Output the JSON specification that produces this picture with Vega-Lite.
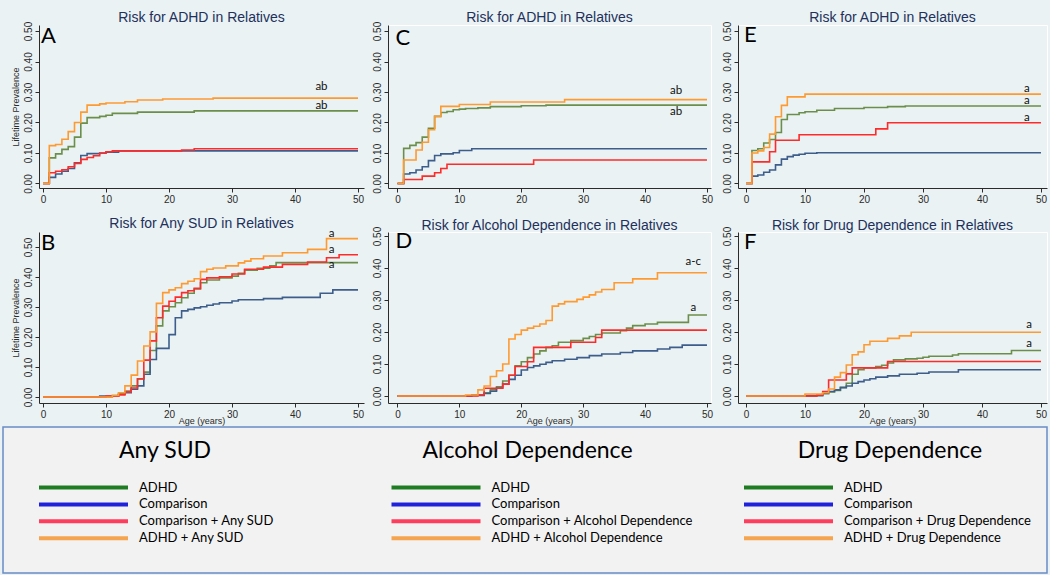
{
  "$schema": "https://vega.github.io/schema/vega-lite/v6.json",
  "background": "#EAF2F3",
  "padding": {"left": 2, "top": 10, "right": 2, "bottom": 2},
  "datasets": {
    "curves": [
      {"p":"A","s":"ADHD","age":0,"prev":0},{"p":"A","s":"ADHD","age":1,"prev":0.084},{"p":"A","s":"ADHD","age":2,"prev":0.097},{"p":"A","s":"ADHD","age":3,"prev":0.112},{"p":"A","s":"ADHD","age":4,"prev":0.121},{"p":"A","s":"ADHD","age":5,"prev":0.152},{"p":"A","s":"ADHD","age":6,"prev":0.198},{"p":"A","s":"ADHD","age":7,"prev":0.216},{"p":"A","s":"ADHD","age":9,"prev":0.22},{"p":"A","s":"ADHD","age":10,"prev":0.224},{"p":"A","s":"ADHD","age":11,"prev":0.23},{"p":"A","s":"ADHD","age":15,"prev":0.234},{"p":"A","s":"ADHD","age":24,"prev":0.238},{"p":"A","s":"ADHD","age":50,"prev":0.238},
      {"p":"A","s":"Comparison","age":0,"prev":0},{"p":"A","s":"Comparison","age":1,"prev":0.02},{"p":"A","s":"Comparison","age":2,"prev":0.031},{"p":"A","s":"Comparison","age":3,"prev":0.04},{"p":"A","s":"Comparison","age":4,"prev":0.049},{"p":"A","s":"Comparison","age":5,"prev":0.068},{"p":"A","s":"Comparison","age":6,"prev":0.092},{"p":"A","s":"Comparison","age":7,"prev":0.098},{"p":"A","s":"Comparison","age":9,"prev":0.1},{"p":"A","s":"Comparison","age":10,"prev":0.103},{"p":"A","s":"Comparison","age":12,"prev":0.107},{"p":"A","s":"Comparison","age":50,"prev":0.107},
      {"p":"A","s":"Comparison + SUD","age":0,"prev":0},{"p":"A","s":"Comparison + SUD","age":1,"prev":0.035},{"p":"A","s":"Comparison + SUD","age":2,"prev":0.04},{"p":"A","s":"Comparison + SUD","age":3,"prev":0.045},{"p":"A","s":"Comparison + SUD","age":4,"prev":0.055},{"p":"A","s":"Comparison + SUD","age":5,"prev":0.066},{"p":"A","s":"Comparison + SUD","age":6,"prev":0.079},{"p":"A","s":"Comparison + SUD","age":7,"prev":0.085},{"p":"A","s":"Comparison + SUD","age":8,"prev":0.091},{"p":"A","s":"Comparison + SUD","age":9,"prev":0.099},{"p":"A","s":"Comparison + SUD","age":10,"prev":0.104},{"p":"A","s":"Comparison + SUD","age":11,"prev":0.107},{"p":"A","s":"Comparison + SUD","age":22,"prev":0.11},{"p":"A","s":"Comparison + SUD","age":24,"prev":0.114},{"p":"A","s":"Comparison + SUD","age":50,"prev":0.114},
      {"p":"A","s":"ADHD + SUD","age":0,"prev":0},{"p":"A","s":"ADHD + SUD","age":1,"prev":0.124},{"p":"A","s":"ADHD + SUD","age":2,"prev":0.128},{"p":"A","s":"ADHD + SUD","age":3,"prev":0.145},{"p":"A","s":"ADHD + SUD","age":4,"prev":0.17},{"p":"A","s":"ADHD + SUD","age":5,"prev":0.2},{"p":"A","s":"ADHD + SUD","age":6,"prev":0.234},{"p":"A","s":"ADHD + SUD","age":7,"prev":0.257},{"p":"A","s":"ADHD + SUD","age":9,"prev":0.261},{"p":"A","s":"ADHD + SUD","age":10,"prev":0.264},{"p":"A","s":"ADHD + SUD","age":13,"prev":0.268},{"p":"A","s":"ADHD + SUD","age":15,"prev":0.274},{"p":"A","s":"ADHD + SUD","age":19,"prev":0.277},{"p":"A","s":"ADHD + SUD","age":27,"prev":0.28},{"p":"A","s":"ADHD + SUD","age":50,"prev":0.28},

      {"p":"C","s":"ADHD","age":0,"prev":0},{"p":"C","s":"ADHD","age":1,"prev":0.115},{"p":"C","s":"ADHD","age":2,"prev":0.125},{"p":"C","s":"ADHD","age":3,"prev":0.134},{"p":"C","s":"ADHD","age":4,"prev":0.152},{"p":"C","s":"ADHD","age":5,"prev":0.181},{"p":"C","s":"ADHD","age":6,"prev":0.22},{"p":"C","s":"ADHD","age":7,"prev":0.233},{"p":"C","s":"ADHD","age":8,"prev":0.236},{"p":"C","s":"ADHD","age":9,"prev":0.242},{"p":"C","s":"ADHD","age":10,"prev":0.244},{"p":"C","s":"ADHD","age":11,"prev":0.246},{"p":"C","s":"ADHD","age":13,"prev":0.248},{"p":"C","s":"ADHD","age":15,"prev":0.252},{"p":"C","s":"ADHD","age":20,"prev":0.255},{"p":"C","s":"ADHD","age":24,"prev":0.257},{"p":"C","s":"ADHD","age":50,"prev":0.257},
      {"p":"C","s":"Comparison","age":0,"prev":0},{"p":"C","s":"Comparison","age":1,"prev":0.031},{"p":"C","s":"Comparison","age":2,"prev":0.035},{"p":"C","s":"Comparison","age":3,"prev":0.044},{"p":"C","s":"Comparison","age":4,"prev":0.055},{"p":"C","s":"Comparison","age":5,"prev":0.075},{"p":"C","s":"Comparison","age":6,"prev":0.092},{"p":"C","s":"Comparison","age":7,"prev":0.097},{"p":"C","s":"Comparison","age":9,"prev":0.101},{"p":"C","s":"Comparison","age":10,"prev":0.108},{"p":"C","s":"Comparison","age":12,"prev":0.114},{"p":"C","s":"Comparison","age":50,"prev":0.114},
      {"p":"C","s":"Comparison + SUD","age":0,"prev":0},{"p":"C","s":"Comparison + SUD","age":1,"prev":0.013},{"p":"C","s":"Comparison + SUD","age":4,"prev":0.024},{"p":"C","s":"Comparison + SUD","age":6,"prev":0.035},{"p":"C","s":"Comparison + SUD","age":7,"prev":0.049},{"p":"C","s":"Comparison + SUD","age":8,"prev":0.063},{"p":"C","s":"Comparison + SUD","age":22,"prev":0.077},{"p":"C","s":"Comparison + SUD","age":50,"prev":0.077},
      {"p":"C","s":"ADHD + SUD","age":0,"prev":0},{"p":"C","s":"ADHD + SUD","age":1,"prev":0.077},{"p":"C","s":"ADHD + SUD","age":3,"prev":0.11},{"p":"C","s":"ADHD + SUD","age":4,"prev":0.135},{"p":"C","s":"ADHD + SUD","age":5,"prev":0.176},{"p":"C","s":"ADHD + SUD","age":6,"prev":0.22},{"p":"C","s":"ADHD + SUD","age":7,"prev":0.253},{"p":"C","s":"ADHD + SUD","age":10,"prev":0.259},{"p":"C","s":"ADHD + SUD","age":15,"prev":0.267},{"p":"C","s":"ADHD + SUD","age":27,"prev":0.275},{"p":"C","s":"ADHD + SUD","age":50,"prev":0.275},

      {"p":"E","s":"ADHD","age":0,"prev":0},{"p":"E","s":"ADHD","age":1,"prev":0.108},{"p":"E","s":"ADHD","age":2,"prev":0.114},{"p":"E","s":"ADHD","age":3,"prev":0.133},{"p":"E","s":"ADHD","age":4,"prev":0.144},{"p":"E","s":"ADHD","age":5,"prev":0.167},{"p":"E","s":"ADHD","age":6,"prev":0.21},{"p":"E","s":"ADHD","age":7,"prev":0.226},{"p":"E","s":"ADHD","age":9,"prev":0.232},{"p":"E","s":"ADHD","age":10,"prev":0.235},{"p":"E","s":"ADHD","age":12,"prev":0.24},{"p":"E","s":"ADHD","age":15,"prev":0.246},{"p":"E","s":"ADHD","age":20,"prev":0.249},{"p":"E","s":"ADHD","age":24,"prev":0.252},{"p":"E","s":"ADHD","age":27,"prev":0.254},{"p":"E","s":"ADHD","age":50,"prev":0.254},
      {"p":"E","s":"Comparison","age":0,"prev":0},{"p":"E","s":"Comparison","age":1,"prev":0.024},{"p":"E","s":"Comparison","age":2,"prev":0.028},{"p":"E","s":"Comparison","age":3,"prev":0.037},{"p":"E","s":"Comparison","age":4,"prev":0.044},{"p":"E","s":"Comparison","age":5,"prev":0.061},{"p":"E","s":"Comparison","age":6,"prev":0.08},{"p":"E","s":"Comparison","age":7,"prev":0.088},{"p":"E","s":"Comparison","age":8,"prev":0.093},{"p":"E","s":"Comparison","age":9,"prev":0.096},{"p":"E","s":"Comparison","age":10,"prev":0.099},{"p":"E","s":"Comparison","age":12,"prev":0.101},{"p":"E","s":"Comparison","age":50,"prev":0.101},
      {"p":"E","s":"Comparison + SUD","age":0,"prev":0},{"p":"E","s":"Comparison + SUD","age":1,"prev":0.071},{"p":"E","s":"Comparison + SUD","age":4,"prev":0.104},{"p":"E","s":"Comparison + SUD","age":5,"prev":0.142},{"p":"E","s":"Comparison + SUD","age":9,"prev":0.16},{"p":"E","s":"Comparison + SUD","age":22,"prev":0.179},{"p":"E","s":"Comparison + SUD","age":24,"prev":0.199},{"p":"E","s":"Comparison + SUD","age":50,"prev":0.199},
      {"p":"E","s":"ADHD + SUD","age":0,"prev":0},{"p":"E","s":"ADHD + SUD","age":1,"prev":0.1},{"p":"E","s":"ADHD + SUD","age":2,"prev":0.107},{"p":"E","s":"ADHD + SUD","age":3,"prev":0.118},{"p":"E","s":"ADHD + SUD","age":4,"prev":0.162},{"p":"E","s":"ADHD + SUD","age":5,"prev":0.219},{"p":"E","s":"ADHD + SUD","age":6,"prev":0.256},{"p":"E","s":"ADHD + SUD","age":7,"prev":0.284},{"p":"E","s":"ADHD + SUD","age":10,"prev":0.293},{"p":"E","s":"ADHD + SUD","age":50,"prev":0.293},

      {"p":"B","s":"ADHD","age":0,"prev":0},{"p":"B","s":"ADHD","age":11,"prev":0.005},{"p":"B","s":"ADHD","age":12,"prev":0.012},{"p":"B","s":"ADHD","age":13,"prev":0.02},{"p":"B","s":"ADHD","age":14,"prev":0.037},{"p":"B","s":"ADHD","age":15,"prev":0.061},{"p":"B","s":"ADHD","age":16,"prev":0.083},{"p":"B","s":"ADHD","age":17,"prev":0.155},{"p":"B","s":"ADHD","age":18,"prev":0.237},{"p":"B","s":"ADHD","age":19,"prev":0.287},{"p":"B","s":"ADHD","age":20,"prev":0.301},{"p":"B","s":"ADHD","age":21,"prev":0.314},{"p":"B","s":"ADHD","age":22,"prev":0.331},{"p":"B","s":"ADHD","age":23,"prev":0.346},{"p":"B","s":"ADHD","age":24,"prev":0.36},{"p":"B","s":"ADHD","age":25,"prev":0.381},{"p":"B","s":"ADHD","age":26,"prev":0.39},{"p":"B","s":"ADHD","age":28,"prev":0.397},{"p":"B","s":"ADHD","age":30,"prev":0.403},{"p":"B","s":"ADHD","age":31,"prev":0.412},{"p":"B","s":"ADHD","age":32,"prev":0.423},{"p":"B","s":"ADHD","age":34,"prev":0.429},{"p":"B","s":"ADHD","age":36,"prev":0.437},{"p":"B","s":"ADHD","age":37,"prev":0.448},{"p":"B","s":"ADHD","age":50,"prev":0.448},
      {"p":"B","s":"Comparison","age":0,"prev":0},{"p":"B","s":"Comparison","age":9,"prev":0.003},{"p":"B","s":"Comparison","age":12,"prev":0.009},{"p":"B","s":"Comparison","age":13,"prev":0.014},{"p":"B","s":"Comparison","age":14,"prev":0.026},{"p":"B","s":"Comparison","age":15,"prev":0.037},{"p":"B","s":"Comparison","age":16,"prev":0.076},{"p":"B","s":"Comparison","age":17,"prev":0.125},{"p":"B","s":"Comparison","age":18,"prev":0.162},{"p":"B","s":"Comparison","age":20,"prev":0.208},{"p":"B","s":"Comparison","age":21,"prev":0.264},{"p":"B","s":"Comparison","age":22,"prev":0.287},{"p":"B","s":"Comparison","age":23,"prev":0.292},{"p":"B","s":"Comparison","age":24,"prev":0.297},{"p":"B","s":"Comparison","age":25,"prev":0.301},{"p":"B","s":"Comparison","age":26,"prev":0.306},{"p":"B","s":"Comparison","age":27,"prev":0.31},{"p":"B","s":"Comparison","age":28,"prev":0.314},{"p":"B","s":"Comparison","age":30,"prev":0.32},{"p":"B","s":"Comparison","age":31,"prev":0.324},{"p":"B","s":"Comparison","age":35,"prev":0.328},{"p":"B","s":"Comparison","age":38,"prev":0.332},{"p":"B","s":"Comparison","age":44,"prev":0.346},{"p":"B","s":"Comparison","age":46,"prev":0.357},{"p":"B","s":"Comparison","age":50,"prev":0.357},
      {"p":"B","s":"Comparison + SUD","age":0,"prev":0},{"p":"B","s":"Comparison + SUD","age":10,"prev":0.003},{"p":"B","s":"Comparison + SUD","age":12,"prev":0.007},{"p":"B","s":"Comparison + SUD","age":13,"prev":0.017},{"p":"B","s":"Comparison + SUD","age":14,"prev":0.03},{"p":"B","s":"Comparison + SUD","age":15,"prev":0.06},{"p":"B","s":"Comparison + SUD","age":16,"prev":0.123},{"p":"B","s":"Comparison + SUD","age":17,"prev":0.187},{"p":"B","s":"Comparison + SUD","age":18,"prev":0.264},{"p":"B","s":"Comparison + SUD","age":19,"prev":0.303},{"p":"B","s":"Comparison + SUD","age":20,"prev":0.319},{"p":"B","s":"Comparison + SUD","age":21,"prev":0.333},{"p":"B","s":"Comparison + SUD","age":22,"prev":0.348},{"p":"B","s":"Comparison + SUD","age":23,"prev":0.354},{"p":"B","s":"Comparison + SUD","age":24,"prev":0.362},{"p":"B","s":"Comparison + SUD","age":25,"prev":0.392},{"p":"B","s":"Comparison + SUD","age":26,"prev":0.397},{"p":"B","s":"Comparison + SUD","age":28,"prev":0.401},{"p":"B","s":"Comparison + SUD","age":30,"prev":0.41},{"p":"B","s":"Comparison + SUD","age":32,"prev":0.426},{"p":"B","s":"Comparison + SUD","age":35,"prev":0.433},{"p":"B","s":"Comparison + SUD","age":38,"prev":0.442},{"p":"B","s":"Comparison + SUD","age":42,"prev":0.45},{"p":"B","s":"Comparison + SUD","age":45,"prev":0.464},{"p":"B","s":"Comparison + SUD","age":47,"prev":0.474},{"p":"B","s":"Comparison + SUD","age":50,"prev":0.474},
      {"p":"B","s":"ADHD + SUD","age":0,"prev":0},{"p":"B","s":"ADHD + SUD","age":11,"prev":0.005},{"p":"B","s":"ADHD + SUD","age":12,"prev":0.014},{"p":"B","s":"ADHD + SUD","age":13,"prev":0.037},{"p":"B","s":"ADHD + SUD","age":14,"prev":0.073},{"p":"B","s":"ADHD + SUD","age":15,"prev":0.12},{"p":"B","s":"ADHD + SUD","age":16,"prev":0.17},{"p":"B","s":"ADHD + SUD","age":17,"prev":0.217},{"p":"B","s":"ADHD + SUD","age":18,"prev":0.312},{"p":"B","s":"ADHD + SUD","age":19,"prev":0.348},{"p":"B","s":"ADHD + SUD","age":20,"prev":0.357},{"p":"B","s":"ADHD + SUD","age":21,"prev":0.364},{"p":"B","s":"ADHD + SUD","age":22,"prev":0.378},{"p":"B","s":"ADHD + SUD","age":23,"prev":0.386},{"p":"B","s":"ADHD + SUD","age":24,"prev":0.394},{"p":"B","s":"ADHD + SUD","age":25,"prev":0.418},{"p":"B","s":"ADHD + SUD","age":26,"prev":0.426},{"p":"B","s":"ADHD + SUD","age":27,"prev":0.43},{"p":"B","s":"ADHD + SUD","age":29,"prev":0.437},{"p":"B","s":"ADHD + SUD","age":31,"prev":0.447},{"p":"B","s":"ADHD + SUD","age":32,"prev":0.453},{"p":"B","s":"ADHD + SUD","age":33,"prev":0.461},{"p":"B","s":"ADHD + SUD","age":35,"prev":0.47},{"p":"B","s":"ADHD + SUD","age":38,"prev":0.481},{"p":"B","s":"ADHD + SUD","age":42,"prev":0.492},{"p":"B","s":"ADHD + SUD","age":45,"prev":0.528},{"p":"B","s":"ADHD + SUD","age":50,"prev":0.528},

      {"p":"D","s":"ADHD","age":0,"prev":0},{"p":"D","s":"ADHD","age":12,"prev":0.003},{"p":"D","s":"ADHD","age":14,"prev":0.01},{"p":"D","s":"ADHD","age":15,"prev":0.019},{"p":"D","s":"ADHD","age":16,"prev":0.029},{"p":"D","s":"ADHD","age":17,"prev":0.047},{"p":"D","s":"ADHD","age":18,"prev":0.065},{"p":"D","s":"ADHD","age":19,"prev":0.094},{"p":"D","s":"ADHD","age":20,"prev":0.107},{"p":"D","s":"ADHD","age":21,"prev":0.12},{"p":"D","s":"ADHD","age":22,"prev":0.131},{"p":"D","s":"ADHD","age":23,"prev":0.141},{"p":"D","s":"ADHD","age":24,"prev":0.152},{"p":"D","s":"ADHD","age":25,"prev":0.157},{"p":"D","s":"ADHD","age":26,"prev":0.168},{"p":"D","s":"ADHD","age":28,"prev":0.173},{"p":"D","s":"ADHD","age":30,"prev":0.18},{"p":"D","s":"ADHD","age":31,"prev":0.186},{"p":"D","s":"ADHD","age":32,"prev":0.192},{"p":"D","s":"ADHD","age":33,"prev":0.197},{"p":"D","s":"ADHD","age":36,"prev":0.204},{"p":"D","s":"ADHD","age":37,"prev":0.212},{"p":"D","s":"ADHD","age":38,"prev":0.22},{"p":"D","s":"ADHD","age":40,"prev":0.225},{"p":"D","s":"ADHD","age":42,"prev":0.23},{"p":"D","s":"ADHD","age":47,"prev":0.253},{"p":"D","s":"ADHD","age":50,"prev":0.253},
      {"p":"D","s":"Comparison","age":0,"prev":0},{"p":"D","s":"Comparison","age":12,"prev":0.002},{"p":"D","s":"Comparison","age":14,"prev":0.008},{"p":"D","s":"Comparison","age":15,"prev":0.015},{"p":"D","s":"Comparison","age":16,"prev":0.025},{"p":"D","s":"Comparison","age":17,"prev":0.037},{"p":"D","s":"Comparison","age":18,"prev":0.052},{"p":"D","s":"Comparison","age":19,"prev":0.065},{"p":"D","s":"Comparison","age":20,"prev":0.081},{"p":"D","s":"Comparison","age":21,"prev":0.089},{"p":"D","s":"Comparison","age":22,"prev":0.094},{"p":"D","s":"Comparison","age":23,"prev":0.099},{"p":"D","s":"Comparison","age":24,"prev":0.105},{"p":"D","s":"Comparison","age":25,"prev":0.11},{"p":"D","s":"Comparison","age":27,"prev":0.115},{"p":"D","s":"Comparison","age":29,"prev":0.12},{"p":"D","s":"Comparison","age":31,"prev":0.126},{"p":"D","s":"Comparison","age":33,"prev":0.131},{"p":"D","s":"Comparison","age":36,"prev":0.136},{"p":"D","s":"Comparison","age":38,"prev":0.141},{"p":"D","s":"Comparison","age":42,"prev":0.147},{"p":"D","s":"Comparison","age":44,"prev":0.152},{"p":"D","s":"Comparison","age":46,"prev":0.159},{"p":"D","s":"Comparison","age":50,"prev":0.159},
      {"p":"D","s":"Comparison + SUD","age":0,"prev":0},{"p":"D","s":"Comparison + SUD","age":13,"prev":0.003},{"p":"D","s":"Comparison + SUD","age":14,"prev":0.024},{"p":"D","s":"Comparison + SUD","age":17,"prev":0.037},{"p":"D","s":"Comparison + SUD","age":18,"prev":0.065},{"p":"D","s":"Comparison + SUD","age":19,"prev":0.092},{"p":"D","s":"Comparison + SUD","age":21,"prev":0.107},{"p":"D","s":"Comparison + SUD","age":22,"prev":0.152},{"p":"D","s":"Comparison + SUD","age":28,"prev":0.168},{"p":"D","s":"Comparison + SUD","age":32,"prev":0.183},{"p":"D","s":"Comparison + SUD","age":33,"prev":0.206},{"p":"D","s":"Comparison + SUD","age":50,"prev":0.206},
      {"p":"D","s":"ADHD + SUD","age":0,"prev":0},{"p":"D","s":"ADHD + SUD","age":11,"prev":0.003},{"p":"D","s":"ADHD + SUD","age":13,"prev":0.019},{"p":"D","s":"ADHD + SUD","age":14,"prev":0.031},{"p":"D","s":"ADHD + SUD","age":15,"prev":0.061},{"p":"D","s":"ADHD + SUD","age":16,"prev":0.079},{"p":"D","s":"ADHD + SUD","age":17,"prev":0.1},{"p":"D","s":"ADHD + SUD","age":18,"prev":0.178},{"p":"D","s":"ADHD + SUD","age":19,"prev":0.192},{"p":"D","s":"ADHD + SUD","age":20,"prev":0.206},{"p":"D","s":"ADHD + SUD","age":21,"prev":0.212},{"p":"D","s":"ADHD + SUD","age":22,"prev":0.218},{"p":"D","s":"ADHD + SUD","age":23,"prev":0.225},{"p":"D","s":"ADHD + SUD","age":24,"prev":0.236},{"p":"D","s":"ADHD + SUD","age":25,"prev":0.281},{"p":"D","s":"ADHD + SUD","age":26,"prev":0.288},{"p":"D","s":"ADHD + SUD","age":27,"prev":0.295},{"p":"D","s":"ADHD + SUD","age":29,"prev":0.302},{"p":"D","s":"ADHD + SUD","age":30,"prev":0.309},{"p":"D","s":"ADHD + SUD","age":31,"prev":0.316},{"p":"D","s":"ADHD + SUD","age":32,"prev":0.325},{"p":"D","s":"ADHD + SUD","age":33,"prev":0.333},{"p":"D","s":"ADHD + SUD","age":35,"prev":0.354},{"p":"D","s":"ADHD + SUD","age":38,"prev":0.366},{"p":"D","s":"ADHD + SUD","age":42,"prev":0.385},{"p":"D","s":"ADHD + SUD","age":50,"prev":0.385},

      {"p":"F","s":"ADHD","age":0,"prev":0},{"p":"F","s":"ADHD","age":12,"prev":0.003},{"p":"F","s":"ADHD","age":13,"prev":0.008},{"p":"F","s":"ADHD","age":14,"prev":0.013},{"p":"F","s":"ADHD","age":15,"prev":0.017},{"p":"F","s":"ADHD","age":16,"prev":0.027},{"p":"F","s":"ADHD","age":17,"prev":0.04},{"p":"F","s":"ADHD","age":18,"prev":0.068},{"p":"F","s":"ADHD","age":19,"prev":0.082},{"p":"F","s":"ADHD","age":20,"prev":0.088},{"p":"F","s":"ADHD","age":22,"prev":0.092},{"p":"F","s":"ADHD","age":23,"prev":0.096},{"p":"F","s":"ADHD","age":24,"prev":0.103},{"p":"F","s":"ADHD","age":25,"prev":0.113},{"p":"F","s":"ADHD","age":27,"prev":0.116},{"p":"F","s":"ADHD","age":29,"prev":0.118},{"p":"F","s":"ADHD","age":30,"prev":0.121},{"p":"F","s":"ADHD","age":31,"prev":0.124},{"p":"F","s":"ADHD","age":35,"prev":0.128},{"p":"F","s":"ADHD","age":36,"prev":0.132},{"p":"F","s":"ADHD","age":45,"prev":0.142},{"p":"F","s":"ADHD","age":50,"prev":0.142},
      {"p":"F","s":"Comparison","age":0,"prev":0},{"p":"F","s":"Comparison","age":10,"prev":0.001},{"p":"F","s":"Comparison","age":13,"prev":0.008},{"p":"F","s":"Comparison","age":14,"prev":0.014},{"p":"F","s":"Comparison","age":15,"prev":0.019},{"p":"F","s":"Comparison","age":16,"prev":0.026},{"p":"F","s":"Comparison","age":17,"prev":0.031},{"p":"F","s":"Comparison","age":18,"prev":0.04},{"p":"F","s":"Comparison","age":19,"prev":0.045},{"p":"F","s":"Comparison","age":20,"prev":0.05},{"p":"F","s":"Comparison","age":21,"prev":0.054},{"p":"F","s":"Comparison","age":22,"prev":0.059},{"p":"F","s":"Comparison","age":24,"prev":0.063},{"p":"F","s":"Comparison","age":26,"prev":0.068},{"p":"F","s":"Comparison","age":29,"prev":0.071},{"p":"F","s":"Comparison","age":31,"prev":0.075},{"p":"F","s":"Comparison","age":36,"prev":0.082},{"p":"F","s":"Comparison","age":50,"prev":0.082},
      {"p":"F","s":"Comparison + SUD","age":0,"prev":0},{"p":"F","s":"Comparison + SUD","age":12,"prev":0.003},{"p":"F","s":"Comparison + SUD","age":13,"prev":0.014},{"p":"F","s":"Comparison + SUD","age":14,"prev":0.05},{"p":"F","s":"Comparison + SUD","age":17,"prev":0.069},{"p":"F","s":"Comparison + SUD","age":18,"prev":0.088},{"p":"F","s":"Comparison + SUD","age":24,"prev":0.108},{"p":"F","s":"Comparison + SUD","age":50,"prev":0.108},
      {"p":"F","s":"ADHD + SUD","age":0,"prev":0},{"p":"F","s":"ADHD + SUD","age":10,"prev":0.006},{"p":"F","s":"ADHD + SUD","age":13,"prev":0.01},{"p":"F","s":"ADHD + SUD","age":14,"prev":0.022},{"p":"F","s":"ADHD + SUD","age":15,"prev":0.059},{"p":"F","s":"ADHD + SUD","age":16,"prev":0.073},{"p":"F","s":"ADHD + SUD","age":17,"prev":0.097},{"p":"F","s":"ADHD + SUD","age":18,"prev":0.129},{"p":"F","s":"ADHD + SUD","age":19,"prev":0.138},{"p":"F","s":"ADHD + SUD","age":20,"prev":0.16},{"p":"F","s":"ADHD + SUD","age":21,"prev":0.171},{"p":"F","s":"ADHD + SUD","age":24,"prev":0.18},{"p":"F","s":"ADHD + SUD","age":26,"prev":0.188},{"p":"F","s":"ADHD + SUD","age":28,"prev":0.199},{"p":"F","s":"ADHD + SUD","age":50,"prev":0.199}
    ],
    "notes": [
      {"p":"A","label":"ab","age":44.2,"prev":0.315},{"p":"A","label":"ab","age":44.2,"prev":0.255},
      {"p":"C","label":"ab","age":45,"prev":0.302},{"p":"C","label":"ab","age":45,"prev":0.236},
      {"p":"E","label":"a","age":47.6,"prev":0.31},{"p":"E","label":"a","age":47.6,"prev":0.27},{"p":"E","label":"a","age":47.6,"prev":0.216},
      {"p":"B","label":"a","age":45.8,"prev":0.542},{"p":"B","label":"a","age":45.8,"prev":0.49},{"p":"B","label":"a","age":45.8,"prev":0.44},
      {"p":"D","label":"a-c","age":47.8,"prev":0.419},{"p":"D","label":"a","age":47.8,"prev":0.274},
      {"p":"F","label":"a","age":48,"prev":0.223},{"p":"F","label":"a","age":48,"prev":0.162}
    ],
    "letters": [
      {"p":"A","letter":"A","age":0,"prev":0.484},{"p":"C","letter":"C","age":0,"prev":0.477},{"p":"E","letter":"E","age":0,"prev":0.487},
      {"p":"B","letter":"B","age":0,"prev":0.513},{"p":"D","letter":"D","age":0,"prev":0.484},{"p":"F","letter":"F","age":0,"prev":0.481}
    ],
    "legend": [
      {"grp":"Any SUD","row":1,"kind":"ADHD","label":"ADHD"},
      {"grp":"Any SUD","row":2,"kind":"Comparison","label":"Comparison"},
      {"grp":"Any SUD","row":3,"kind":"Comparison + disorder","label":"Comparison + Any SUD"},
      {"grp":"Any SUD","row":4,"kind":"ADHD + disorder","label":"ADHD + Any SUD"},
      {"grp":"Alcohol Dependence","row":1,"kind":"ADHD","label":"ADHD"},
      {"grp":"Alcohol Dependence","row":2,"kind":"Comparison","label":"Comparison"},
      {"grp":"Alcohol Dependence","row":3,"kind":"Comparison + disorder","label":"Comparison + Alcohol Dependence"},
      {"grp":"Alcohol Dependence","row":4,"kind":"ADHD + disorder","label":"ADHD + Alcohol Dependence"},
      {"grp":"Drug Dependence","row":1,"kind":"ADHD","label":"ADHD"},
      {"grp":"Drug Dependence","row":2,"kind":"Comparison","label":"Comparison"},
      {"grp":"Drug Dependence","row":3,"kind":"Comparison + disorder","label":"Comparison + Drug Dependence"},
      {"grp":"Drug Dependence","row":4,"kind":"ADHD + disorder","label":"ADHD + Drug Dependence"}
    ]
  },
  "resolve": {"scale": {"color": "independent"}},
  "spacing": 0,
  "vconcat": [
    {
      "spacing": 12,
      "vconcat": [
        {
          "spacing": 7,
          "hconcat": [
            {
              "title": {"text": "Risk for ADHD in Relatives", "offset": -4, "dx": 18},
              "width": 361, "height": 163,
              "view": {"fill": "#EAF2F3", "stroke": null},
              "encoding": {
                "x": {"field": "age", "type": "quantitative", "scale": {"domain": [-0.635, 50.95], "range": [36, 361], "nice": false, "zero": false}, "axis": {"values": [0,10,20,30,40,50], "title": null}},
                "y": {"field": "prev", "type": "quantitative", "scale": {"domain": [-0.0148, 0.5197], "nice": false, "zero": false}, "axis": {"values": [0,0.1,0.2,0.3,0.4,0.5], "format": ".2f", "title": "Lifetime Prevalence", "offset": -36}}
              },
              "layer": [
                {"data": {"name": "curves"}, "transform": [{"filter": "datum.p === 'A'"}], "mark": {"type": "line", "interpolate": "step-after", "strokeWidth": 1.6},
                 "encoding": {"color": {"field": "s", "type": "nominal", "scale": {"domain": ["ADHD","Comparison","Comparison + SUD","ADHD + SUD"], "range": ["#6B8E4B","#3D5E8C","#FF2B2B","#FF9A30"]}, "legend": null}}},
                {"data": {"name": "notes"}, "transform": [{"filter": "datum.p === 'A'"}], "mark": {"type": "text", "font": "Lato", "fontSize": 11.5, "color": "#111111"}, "encoding": {"text": {"field": "label"}}},
                {"data": {"name": "letters"}, "transform": [{"filter": "datum.p === 'A'"}], "mark": {"type": "text", "font": "Lato", "fontSize": 22, "align": "left", "baseline": "middle", "dx": -2, "color": "#000000"}, "encoding": {"text": {"field": "letter"}}}
              ]
            },
            {
              "title": {"text": "Risk for ADHD in Relatives", "offset": -4},
              "width": 323, "height": 163,
              "view": {"fill": "#EAF2F3", "stroke": "#FFFFFF"},
              "encoding": {
                "x": {"field": "age", "type": "quantitative", "scale": {"domain": [-1.53, 50.65], "nice": false, "zero": false}, "axis": {"values": [0,10,20,30,40,50], "title": null}},
                "y": {"field": "prev", "type": "quantitative", "scale": {"domain": [-0.0148, 0.5197], "nice": false, "zero": false}, "axis": {"values": [0,0.1,0.2,0.3,0.4,0.5], "format": ".2f", "title": null}}
              },
              "layer": [
                {"data": {"name": "curves"}, "transform": [{"filter": "datum.p === 'C'"}], "mark": {"type": "line", "interpolate": "step-after", "strokeWidth": 1.6},
                 "encoding": {"color": {"field": "s", "type": "nominal", "scale": {"domain": ["ADHD","Comparison","Comparison + SUD","ADHD + SUD"], "range": ["#6B8E4B","#3D5E8C","#FF2B2B","#FF9A30"]}, "legend": null}}},
                {"data": {"name": "notes"}, "transform": [{"filter": "datum.p === 'C'"}], "mark": {"type": "text", "font": "Lato", "fontSize": 11.5, "color": "#111111"}, "encoding": {"text": {"field": "label"}}},
                {"data": {"name": "letters"}, "transform": [{"filter": "datum.p === 'C'"}], "mark": {"type": "text", "font": "Lato", "fontSize": 22, "align": "left", "baseline": "middle", "dx": -2, "color": "#000000"}, "encoding": {"text": {"field": "letter"}}}
              ]
            },
            {
              "title": {"text": "Risk for ADHD in Relatives", "offset": -4},
              "width": 309, "height": 163,
              "view": {"fill": "#EAF2F3", "stroke": "#FFFFFF"},
              "encoding": {
                "x": {"field": "age", "type": "quantitative", "scale": {"domain": [-1.36, 51.02], "nice": false, "zero": false}, "axis": {"values": [0,10,20,30,40,50], "title": null}},
                "y": {"field": "prev", "type": "quantitative", "scale": {"domain": [-0.0148, 0.5197], "nice": false, "zero": false}, "axis": {"values": [0,0.1,0.2,0.3,0.4,0.5], "format": ".2f", "title": null}}
              },
              "layer": [
                {"data": {"name": "curves"}, "transform": [{"filter": "datum.p === 'E'"}], "mark": {"type": "line", "interpolate": "step-after", "strokeWidth": 1.6},
                 "encoding": {"color": {"field": "s", "type": "nominal", "scale": {"domain": ["ADHD","Comparison","Comparison + SUD","ADHD + SUD"], "range": ["#6B8E4B","#3D5E8C","#FF2B2B","#FF9A30"]}, "legend": null}}},
                {"data": {"name": "notes"}, "transform": [{"filter": "datum.p === 'E'"}], "mark": {"type": "text", "font": "Lato", "fontSize": 11.5, "color": "#111111"}, "encoding": {"text": {"field": "label"}}},
                {"data": {"name": "letters"}, "transform": [{"filter": "datum.p === 'E'"}], "mark": {"type": "text", "font": "Lato", "fontSize": 22, "align": "left", "baseline": "middle", "dx": -2, "color": "#000000"}, "encoding": {"text": {"field": "letter"}}}
              ]
            }
          ]
        },
        {
          "spacing": 7,
          "hconcat": [
            {
              "title": {"text": "Risk for Any SUD in Relatives", "offset": -3, "dx": 18},
              "width": 361, "height": 171,
              "view": {"fill": "#EAF2F3", "stroke": null},
              "encoding": {
                "x": {"field": "age", "type": "quantitative", "scale": {"domain": [-0.635, 50.95], "range": [36, 361], "nice": false, "zero": false}, "axis": {"values": [0,10,20,30,40,50], "title": "Age (years)"}},
                "y": {"field": "prev", "type": "quantitative", "scale": {"domain": [-0.02, 0.55], "nice": false, "zero": false}, "axis": {"values": [0,0.1,0.2,0.3,0.4,0.5], "format": ".2f", "title": "Lifetime Prevalence", "offset": -36}}
              },
              "layer": [
                {"data": {"name": "curves"}, "transform": [{"filter": "datum.p === 'B'"}], "mark": {"type": "line", "interpolate": "step-after", "strokeWidth": 1.6},
                 "encoding": {"color": {"field": "s", "type": "nominal", "scale": {"domain": ["ADHD","Comparison","Comparison + SUD","ADHD + SUD"], "range": ["#6B8E4B","#3D5E8C","#FF2B2B","#FF9A30"]}, "legend": null}}},
                {"data": {"name": "notes"}, "transform": [{"filter": "datum.p === 'B'"}], "mark": {"type": "text", "font": "Lato", "fontSize": 11.5, "color": "#111111"}, "encoding": {"text": {"field": "label"}}},
                {"data": {"name": "letters"}, "transform": [{"filter": "datum.p === 'B'"}], "mark": {"type": "text", "font": "Lato", "fontSize": 22, "align": "left", "baseline": "middle", "dx": -2, "color": "#000000"}, "encoding": {"text": {"field": "letter"}}}
              ]
            },
            {
              "title": {"text": "Risk for Alcohol Dependence in Relatives", "offset": -7},
              "width": 323, "height": 171,
              "view": {"fill": "#EAF2F3", "stroke": "#FFFFFF"},
              "encoding": {
                "x": {"field": "age", "type": "quantitative", "scale": {"domain": [-1.53, 50.65], "nice": false, "zero": false}, "axis": {"values": [0,10,20,30,40,50], "title": "Age (years)"}},
                "y": {"field": "prev", "type": "quantitative", "scale": {"domain": [-0.0219, 0.5125], "nice": false, "zero": false}, "axis": {"values": [0,0.1,0.2,0.3,0.4,0.5], "format": ".2f", "title": null}}
              },
              "layer": [
                {"data": {"name": "curves"}, "transform": [{"filter": "datum.p === 'D'"}], "mark": {"type": "line", "interpolate": "step-after", "strokeWidth": 1.6},
                 "encoding": {"color": {"field": "s", "type": "nominal", "scale": {"domain": ["ADHD","Comparison","Comparison + SUD","ADHD + SUD"], "range": ["#6B8E4B","#3D5E8C","#FF2B2B","#FF9A30"]}, "legend": null}}},
                {"data": {"name": "notes"}, "transform": [{"filter": "datum.p === 'D'"}], "mark": {"type": "text", "font": "Lato", "fontSize": 11.5, "color": "#111111"}, "encoding": {"text": {"field": "label"}}},
                {"data": {"name": "letters"}, "transform": [{"filter": "datum.p === 'D'"}], "mark": {"type": "text", "font": "Lato", "fontSize": 22, "align": "left", "baseline": "middle", "dx": -2, "color": "#000000"}, "encoding": {"text": {"field": "letter"}}}
              ]
            },
            {
              "title": {"text": "Risk for Drug Dependence in Relatives", "offset": -7},
              "width": 309, "height": 171,
              "view": {"fill": "#EAF2F3", "stroke": "#FFFFFF"},
              "encoding": {
                "x": {"field": "age", "type": "quantitative", "scale": {"domain": [-1.36, 51.02], "nice": false, "zero": false}, "axis": {"values": [0,10,20,30,40,50], "title": "Age (years)"}},
                "y": {"field": "prev", "type": "quantitative", "scale": {"domain": [-0.0219, 0.5125], "nice": false, "zero": false}, "axis": {"values": [0,0.1,0.2,0.3,0.4,0.5], "format": ".2f", "title": null}}
              },
              "layer": [
                {"data": {"name": "curves"}, "transform": [{"filter": "datum.p === 'F'"}], "mark": {"type": "line", "interpolate": "step-after", "strokeWidth": 1.6},
                 "encoding": {"color": {"field": "s", "type": "nominal", "scale": {"domain": ["ADHD","Comparison","Comparison + SUD","ADHD + SUD"], "range": ["#6B8E4B","#3D5E8C","#FF2B2B","#FF9A30"]}, "legend": null}}},
                {"data": {"name": "notes"}, "transform": [{"filter": "datum.p === 'F'"}], "mark": {"type": "text", "font": "Lato", "fontSize": 11.5, "color": "#111111"}, "encoding": {"text": {"field": "label"}}},
                {"data": {"name": "letters"}, "transform": [{"filter": "datum.p === 'F'"}], "mark": {"type": "text", "font": "Lato", "fontSize": 22, "align": "left", "baseline": "middle", "dx": -2, "color": "#000000"}, "encoding": {"text": {"field": "letter"}}}
              ]
            }
          ]
        }
      ]
    },
    {
      "width": 1044, "height": 146,
      "view": {"fill": "#F2F2F2", "stroke": "#6A8CC6", "strokeWidth": 1.5},
      "data": {"name": "legend"},
      "encoding": {
        "y": {"field": "row", "type": "quantitative", "scale": {"domain": [-2.588, 6.059], "reverse": true, "nice": false, "zero": false}, "axis": null}
      },
      "layer": [
        {"transform": [{"filter": "datum.row === 1"}],
         "mark": {"type": "text", "font": "Lato", "fontSize": 23, "align": "center", "baseline": "middle", "color": "#000000"},
         "encoding": {
           "x": {"field": "grp", "type": "nominal", "scale": {"type": "point", "domain": ["Any SUD","Alcohol Dependence","Drug Dependence"], "range": [162, 887], "padding": 0}, "axis": null},
           "y": {"datum": -1.18, "type": "quantitative"},
           "text": {"field": "grp"}
         }},
        {"mark": {"type": "rule", "strokeWidth": 4, "x2Offset": 89},
         "encoding": {
           "x": {"field": "grp", "type": "nominal", "scale": {"type": "point", "domain": ["Any SUD","Alcohol Dependence","Drug Dependence"], "range": [36, 741], "padding": 0}, "axis": null},
           "x2": {"field": "grp"},
           "color": {"field": "kind", "type": "nominal", "scale": {"domain": ["ADHD","Comparison","Comparison + disorder","ADHD + disorder"], "range": ["#1E7D22","#1F22DA","#FF3D5C","#F5A54F"]}, "legend": null}
         }},
        {"mark": {"type": "text", "font": "Lato", "fontSize": 13, "align": "left", "baseline": "middle", "dx": 100, "color": "#000000"},
         "encoding": {
           "x": {"field": "grp", "type": "nominal", "scale": {"type": "point", "domain": ["Any SUD","Alcohol Dependence","Drug Dependence"], "range": [36, 741], "padding": 0}, "axis": null},
           "text": {"field": "label"}
         }}
      ],
      "resolve": {"scale": {"x": "independent"}}
    }
  ],
  "config": {
    "axis": {"domainColor": "#2B2B2B", "tickColor": "#2B2B2B", "labelColor": "#2B2B2B", "labelFont": "Liberation Sans", "labelFontSize": 10, "tickSize": 4, "labelPadding": 2, "grid": false, "labelFlush": false, "labelOverlap": false, "titleFont": "Liberation Sans", "titleFontSize": 9, "titleFontWeight": "normal", "titleColor": "#2B2B2B"},
    "axisY": {"labelAngle": -90, "titlePadding": 2.5},
    "axisX": {"titlePadding": -3},
    "title": {"font": "Liberation Sans", "fontSize": 14, "fontWeight": "normal", "color": "#22305C", "anchor": "middle"}
  }
}
